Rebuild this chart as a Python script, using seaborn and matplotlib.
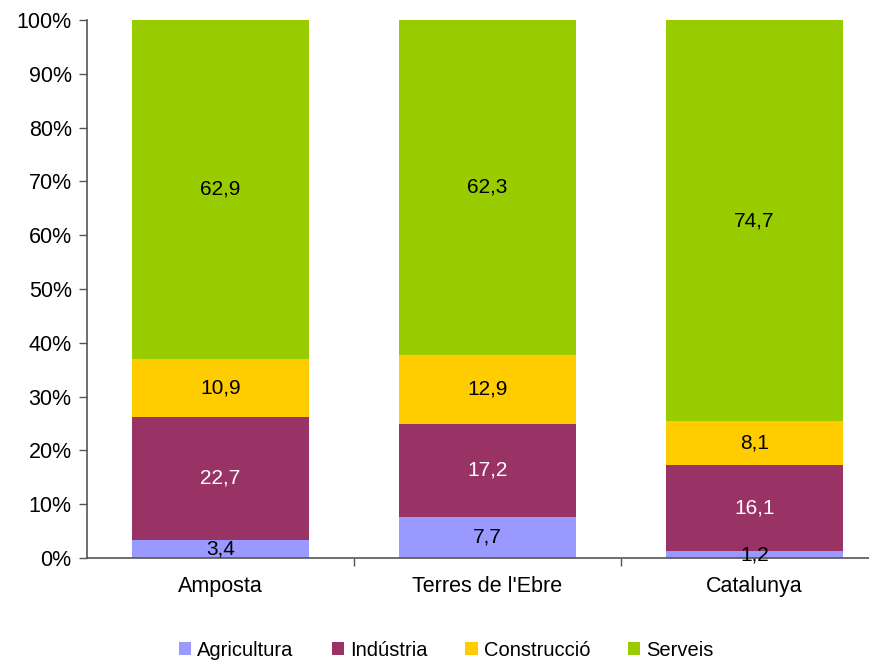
import matplotlib
matplotlib.use("Agg")
import matplotlib.pyplot as plt
import seaborn as sns
import pandas as pd
import numpy as np
from matplotlib.patches import Patch
from matplotlib.ticker import PercentFormatter

categories = ["Amposta", "Terres de l'Ebre", "Catalunya"]
sectors = ["Agricultura", "Indústria", "Construcció", "Serveis"]
agricultura = [3.4, 7.7, 1.2]
industria = [22.7, 17.2, 16.1]
construccio = [10.9, 12.9, 8.1]
serveis = [62.9, 62.3, 74.7]
colors = ["#9999FF", "#993366", "#FFCC00", "#99CC00"]
label_colors = ["black", "white", "black", "black"]

sns.set_theme(style="white")
plt.rcParams['font.family'] = ['Liberation Sans', 'DejaVu Sans']

vals = np.array([agricultura, industria, construccio, serveis])
pct = vals / vals.sum(axis=0) * 100
cum = np.cumsum(pct, axis=0)

fig = plt.figure(figsize=(8.7, 6.61), dpi=100)
ax = fig.add_axes([0.1, 0.156, 0.9, 0.8137])

for i in reversed(range(len(sectors))):
    df = pd.DataFrame({"cat": categories, "v": cum[i]})
    sns.barplot(data=df, x="cat", y="v", color=colors[i], width=0.665,
                saturation=1, ax=ax, edgecolor="none", linewidth=0)

for i in range(len(sectors)):
    for j in range(len(categories)):
        y = cum[i, j] - pct[i, j] / 2
        txt = f"{vals[i, j]:.1f}".replace(".", ",")
        ax.text(j, y, txt, ha="center", va="center", fontsize=15,
                color=label_colors[i])

ax.set_ylim(0, 100)
ax.set_xlim(-0.5, 2.433)
ax.yaxis.set_major_locator(matplotlib.ticker.MultipleLocator(10))
ax.yaxis.set_major_formatter(PercentFormatter(decimals=0))
ax.set_xlabel("")
ax.set_ylabel("")
ax.set_xticks([0, 1, 2])
ax.set_xticklabels(categories)
ax.set_xticks([0.5, 1.5], minor=True)
ax.tick_params(axis="x", which="major", length=0, pad=13, labelsize=15.5, colors="black")
ax.tick_params(axis="x", which="minor", length=6, width=1, color="#555555", direction="out", bottom=True)
ax.tick_params(axis="y", length=6, width=1, color="#555555", direction="out", left=True,
               labelsize=15.5, labelcolor="black", pad=5)
for s in ["top", "right"]:
    ax.spines[s].set_visible(False)
for s in ["left", "bottom"]:
    ax.spines[s].set_color("#555555")
    ax.spines[s].set_linewidth(1.2)

handles = [Patch(facecolor=c, edgecolor="none") for c in colors]
fig.legend(handles, sectors, loc="center", bbox_to_anchor=(0.513, 0.016), ncol=4,
           frameon=False, fontsize=14.5, handlelength=0.6, handleheight=0.6,
           handletextpad=0.3, columnspacing=1.9, labelcolor="black")

fig.savefig("out.png", dpi=100)
